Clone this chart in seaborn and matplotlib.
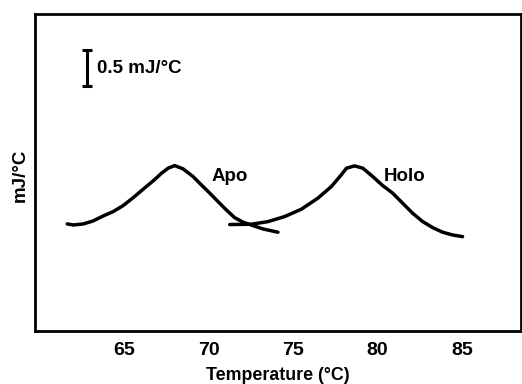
import numpy as np
import pandas as pd
import matplotlib
matplotlib.use("Agg")
import matplotlib.pyplot as plt
import seaborn as sns

# Apo thermogram (temperature in degC, excess heat capacity in mJ/degC)
apo_temp = [61.61, 61.97, 62.56, 63.15, 63.74, 64.33, 64.92, 65.52, 66.11,
            66.70, 67.20, 67.59, 67.98, 68.48, 69.07, 69.56, 70.06, 70.55,
            71.04, 71.53, 72.03, 72.62, 73.21, 74.10]
apo_cp = [1.486, 1.472, 1.486, 1.528, 1.597, 1.657, 1.740, 1.851, 1.968,
          2.083, 2.190, 2.260, 2.296, 2.250, 2.143, 2.028, 1.913, 1.796,
          1.681, 1.574, 1.510, 1.463, 1.417, 1.371]

# Holo thermogram
holo_temp = [71.24, 72.52, 73.50, 74.49, 75.48, 76.46, 77.26, 77.85, 78.16,
             78.64, 79.13, 79.72, 80.31, 80.90, 81.49, 82.08, 82.68, 83.27,
             83.86, 84.45, 85.04]
holo_cp = [1.478, 1.482, 1.518, 1.588, 1.690, 1.843, 2.004, 2.167, 2.260,
           2.292, 2.260, 2.143, 2.018, 1.913, 1.774, 1.635, 1.518, 1.435,
           1.371, 1.333, 1.310]

# scale bar: 0.5 mJ/degC
bar_x = 62.8
bar_center = 3.65
bar_size = 0.5

xticks = [65, 70, 75, 80, 85]

sns.set_style("white")
plt.rcParams['font.family'] = ['Liberation Sans', 'DejaVu Sans']
plt.rcParams['text.color'] = 'black'
plt.rcParams['axes.labelcolor'] = 'black'
plt.rcParams['xtick.color'] = 'black'

fig = plt.figure(figsize=(5.22, 3.84), dpi=100)
ax = fig.add_axes([0.067, 0.138, 0.931, 0.8255])

apo = pd.DataFrame({"T": apo_temp, "Cp": apo_cp})
holo = pd.DataFrame({"T": holo_temp, "Cp": holo_cp})
for d in (apo, holo):
    sns.lineplot(data=d, x="T", y="Cp", color="black", linewidth=2.5,
                 estimator=None, sort=False, ax=ax,
                 solid_joinstyle="round", solid_capstyle="round")

ax.errorbar([bar_x], [bar_center], yerr=[bar_size / 2], fmt="none",
            ecolor="black", elinewidth=2.2, capsize=3.5, capthick=2.2)
ax.text(bar_x + 0.6, bar_center, "0.5 mJ/°C", fontsize=13.5,
        fontweight="bold", va="center", ha="left")

ax.text(71.24, 2.15, "Apo", fontsize=13.5, fontweight="bold", va="center", ha="center")
ax.text(81.6, 2.15, "Holo", fontsize=13.5, fontweight="bold", va="center", ha="center")

ax.set_xlim(59.7, 88.5)
ax.set_ylim(0, 4.4)
ax.set_xticks(xticks)
ax.set_xticklabels([str(t) for t in xticks], fontsize=14, fontweight="bold")
ax.set_yticks([])
ax.tick_params(axis="x", direction="in", length=4, width=2, pad=8, color="black")
for s in ax.spines.values():
    s.set_linewidth(2.0)
    s.set_color("black")

ax.set_xlabel("Temperature (°C)", fontsize=12.8, fontweight="bold")
ax.xaxis.label.set_va("center")
ax.xaxis.set_label_coords(0.5, -0.139)
ax.set_ylabel("mJ/°C", fontsize=13.5, fontweight="bold")
ax.yaxis.label.set_va("center")
ax.yaxis.set_label_coords(-0.031, 0.49)

fig.savefig("out.png", dpi=100)
